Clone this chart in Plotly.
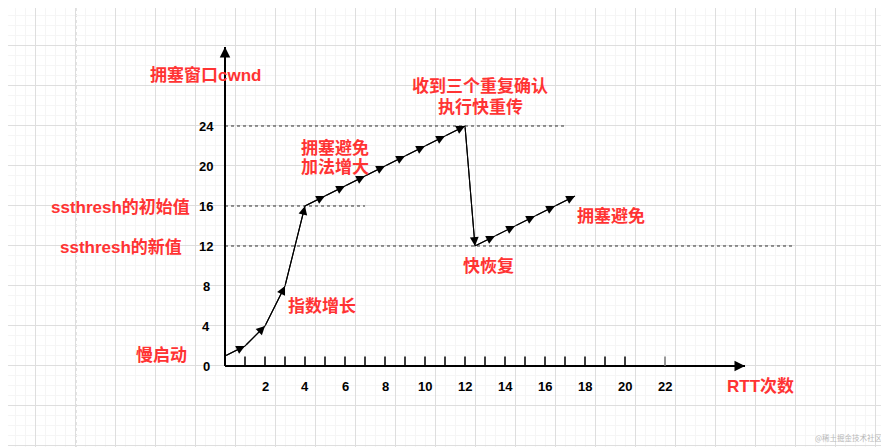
import plotly.graph_objects as go

# ---- data ----
rtt = [0, 1, 2, 3, 4, 5, 6, 7, 8, 9, 10, 11, 12, 12.5, 13.5, 14.5, 15.5, 16.5, 17.5]
cwnd = [1, 2, 4, 8, 16, 17, 18, 19, 20, 21, 22, 23, 24, 12, 13, 14, 15, 16, 17]

y_ticks = [0, 4, 8, 12, 16, 20, 24]
x_tick_labels = [2, 4, 6, 8, 10, 12, 14, 16, 18, 20, 22]
x_tick_marks = [1, 2, 3, 4, 5, 6, 7, 8, 9, 10, 11, 12, 13, 14, 15, 16, 17, 18, 19, 20]
x_tick_gray = [22]

# threshold dashed lines: (level, x_end)
thresholds = [24, 16, 12]
threshold_ends = [17, 7, 28.5]

texts = ["拥塞窗口cwnd", "收到三个重复确认", "执行快重传", "拥塞避免", "加法增大",
         "ssthresh的初始值", "ssthresh的新值", "指数增长", "慢启动", "快恢复",
         "拥塞避免", "RTT次数"]
text_x = [-1.0, 12.75, 12.75, 5.5, 5.5, -5.25, -5.2, 4.85, -3.2, 13.15, 19.3, 26.75]
text_y = [29.1, 28.0, 25.9, 21.8, 19.9, 15.9, 11.9, 6.0, 1.1, 10.0, 15.0, -2.0]

x_axis_end = 26
y_axis_end = 31.9

RED = "#FF3333"
FONT = "Liberation Sans, Arial, Noto Sans CJK SC, sans-serif"

fig = go.Figure()

# threshold lines
for lvl, xe in zip(thresholds, threshold_ends):
    fig.add_trace(go.Scatter(x=[0, xe], y=[lvl, lvl], mode="lines",
                             line=dict(color="#333333", width=1, dash="3px,3px"),
                             hoverinfo="skip", showlegend=False))

# axes lines
fig.add_trace(go.Scatter(x=[0, x_axis_end], y=[0, 0], mode="lines",
                         line=dict(color="black", width=2), hoverinfo="skip", showlegend=False))
fig.add_trace(go.Scatter(x=[0, 0], y=[0, y_axis_end], mode="lines",
                         line=dict(color="black", width=2), hoverinfo="skip", showlegend=False))
# axis arrowheads
for (x1, y1, x0, y0) in [(x_axis_end, 0, x_axis_end - 1, 0), (0, y_axis_end, 0, y_axis_end - 2)]:
    fig.add_annotation(x=x1, y=y1, ax=x0, ay=y0, xref="x", yref="y", axref="x", ayref="y",
                       text="", showarrow=True, arrowhead=2, arrowsize=1.05, arrowwidth=2,
                       arrowcolor="black")

# x tick marks
tx, ty = [], []
for t in x_tick_marks:
    tx += [t, t, None]
    ty += [0, 0.95, None]
fig.add_trace(go.Scatter(x=tx, y=ty, mode="lines", line=dict(color="black", width=1.5),
                         hoverinfo="skip", showlegend=False))
gx, gy = [], []
for t in x_tick_gray:
    gx += [t, t, None]
    gy += [0, 0.95, None]
fig.add_trace(go.Scatter(x=gx, y=gy, mode="lines", line=dict(color="#777777", width=1.5),
                         hoverinfo="skip", showlegend=False))

# cwnd curve
fig.add_trace(go.Scatter(x=rtt, y=cwnd, mode="lines",
                         line=dict(color="black", width=1.1),
                         showlegend=False))
# arrowheads at each vertex
for i in range(1, len(rtt)):
    fig.add_annotation(x=rtt[i], y=cwnd[i], ax=rtt[i - 1], ay=cwnd[i - 1],
                       xref="x", yref="y", axref="x", ayref="y",
                       text="", showarrow=True, arrowhead=2, arrowsize=1.6, arrowwidth=1.1,
                       arrowcolor="black")

# tick labels
for v in y_ticks:
    fig.add_annotation(x=-0.95, y=v, text=str(v), showarrow=False,
                       font=dict(family=FONT, size=13, color="black", weight="bold"),
                       xanchor="center", yanchor="middle")
for v in x_tick_labels:
    fig.add_annotation(x=v, y=-2.0, text=str(v), showarrow=False,
                       font=dict(family=FONT, size=13, color="black", weight="bold"),
                       xanchor="center", yanchor="middle")

# red annotations
for t, x, y in zip(texts, text_x, text_y):
    fig.add_annotation(x=x, y=y, text=t, showarrow=False,
                       font=dict(family=FONT, size=17, color=RED, weight="bold"),
                       xanchor="center", yanchor="middle")

# watermark
fig.add_annotation(x=841 / 889, y=1 - 429 / 447, xref="paper", yref="paper", text="@稀土掘金技术社区",
                   showarrow=False, font=dict(family="Noto Sans CJK SC", size=7.5, color="#b8b8b8"),
                   xanchor="center", yanchor="middle")

# page-break dashed line
fig.add_shape(type="line", xref="paper", yref="paper", x0=68 / 889, x1=68 / 889, y0=0, y1=1,
              line=dict(color="#c8c8c8", width=1, dash="3px,3px"), layer="below")

fig.update_layout(
    width=889, height=447,
    margin=dict(l=0, r=0, t=0, b=0),
    paper_bgcolor="white", plot_bgcolor="white",
    xaxis=dict(range=[-10.85, 33.6], showticklabels=False, ticks="", zeroline=False,
               showline=False, tick0=0.5, dtick=2, showgrid=True, gridcolor="#dedede",
               gridwidth=1,
               minor=dict(dtick=0.5, tick0=0.5, showgrid=True, gridcolor="#f5f5f5", gridwidth=1)),
    yaxis=dict(range=[-8.9, 35.8], showticklabels=False, ticks="", zeroline=False,
               showline=False, tick0=0.1, dtick=4, showgrid=True, gridcolor="#dedede",
               gridwidth=1,
               minor=dict(dtick=1, tick0=0.1, showgrid=True, gridcolor="#f5f5f5", gridwidth=1)),
)

fig.write_html("out.html")
